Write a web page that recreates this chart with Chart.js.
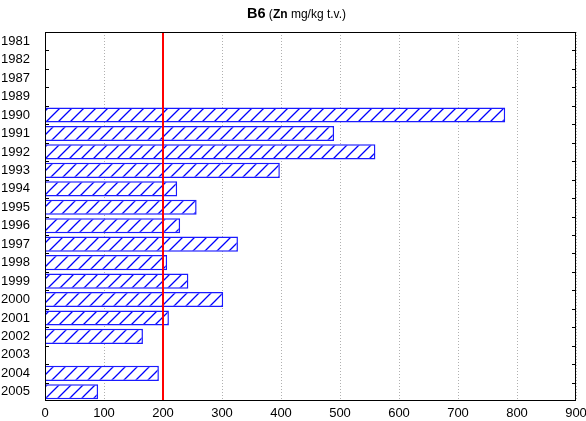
<!DOCTYPE html>
<html lang="en">
<head>
    <meta charset="UTF-8">
    <title>B6 Zn</title>
    <script src="https://cdn.jsdelivr.net/npm/chart.js"></script>
    <style>
        body {
            margin: 0;
            background: #fff;
            font-family: "Liberation Sans", Arial, sans-serif;
        }
        .wrap {
            position: relative;
            width: 586px;
            height: 421px;
        }
        .title {
            position: absolute;
            top: 5px;
            left: 0;
            width: 593px;
            text-align: center;
            font-size: 12px;
            color: #000;
        }
        .title b.big { font-size: 14.5px; }
    </style>
</head>
<body>
    <div class="wrap">
        <div class="title"><b class="big">B6</b> (<b>Zn</b> mg/kg t.v.)</div>
        <canvas id="chart" width="586" height="421"></canvas>
    </div>

    <script>
        // data
        const years = ['1981', '1982', '1987', '1989', '1990', '1991', '1992', '1993', '1994', '1995',
                       '1996', '1997', '1998', '1999', '2000', '2001', '2002', '2003', '2004', '2005'];
        const zinc = [null, null, null, null, 780, 490, 560, 398, 224, 257,
                      229, 327, 207, 243, 302, 210, 166, null, 193, 90];
        const limit = [200];
        const xTicks = [0, 100, 200, 300, 400, 500, 600, 700, 800, 900];

        // hatch fill
        function hatch() {
            const c = document.createElement('canvas');
            c.width = 12; c.height = 12;
            const g = c.getContext('2d');
            g.fillStyle = '#fff';
            g.fillRect(0, 0, 12, 12);
            g.strokeStyle = '#0000ff';
            g.lineWidth = 1.3;
            g.beginPath();
            g.moveTo(0, 12); g.lineTo(12, 0);
            g.moveTo(-6, 6); g.lineTo(6, -6);
            g.moveTo(6, 18); g.lineTo(18, 6);
            g.stroke();
            return g.createPattern(c, 'repeat');
        }

        const frame = {
            id: 'frame',
            afterDraw(chart) {
                const ctx = chart.ctx;
                const a = chart.chartArea;
                const x = chart.scales.x, y = chart.scales.y;
                ctx.save();
                // limit line
                limit.forEach(v => {
                    const px = x.getPixelForValue(v);
                    ctx.strokeStyle = '#ff0000';
                    ctx.lineWidth = 2;
                    ctx.beginPath();
                    ctx.moveTo(px, a.top);
                    ctx.lineTo(px, a.bottom);
                    ctx.stroke();
                });
                // box
                ctx.strokeStyle = '#000';
                ctx.lineWidth = 1;
                ctx.strokeRect(a.left + 0.5, a.top + 0.5, a.right - a.left - 1, a.bottom - a.top - 1);
                // inward ticks at category boundaries
                ctx.beginPath();
                for (let i = 1; i < years.length; i++) {
                    const py = Math.round((y.getPixelForValue(i - 1) + y.getPixelForValue(i)) / 2) + 0.5;
                    ctx.moveTo(a.left, py); ctx.lineTo(a.left + 4, py);
                    ctx.moveTo(a.right, py); ctx.lineTo(a.right - 4, py);
                }
                ctx.stroke();
                ctx.restore();
            }
        };

        new Chart(document.getElementById('chart'), {
            type: 'bar',
            data: {
                labels: years,
                datasets: [{
                    data: zinc,
                    backgroundColor: hatch(),
                    borderColor: '#1a1aff',
                    borderWidth: 1.5,
                    barPercentage: 0.82,
                    categoryPercentage: 1
                }]
            },
            options: {
                indexAxis: 'y',
                responsive: false,
                animation: false,
                layout: { padding: { top: 32, right: 0, left: 0, bottom: 0 } },
                plugins: {
                    legend: { display: false },
                    tooltip: { enabled: false }
                },
                scales: {
                    x: {
                        min: 0,
                        max: 900,
                        afterBuildTicks: s => { s.ticks = xTicks.map(v => ({ value: v })); },
                        afterFit: s => { s.height = 20; s.paddingRight = 10; s.paddingLeft = 0; },
                        grid: { color: '#b0b0b0', drawTicks: false, lineWidth: 1 },
                        border: { display: false, dash: [1, 2] },
                        ticks: { color: '#000', font: { family: 'Liberation Sans', size: 13 }, padding: 5, maxRotation: 0, autoSkip: false }
                    },
                    y: {
                        afterFit: s => { s.width = 45; s.paddingTop = 0; s.paddingBottom = 0; },
                        grid: { display: false },
                        border: { display: false },
                        ticks: { color: '#000', font: { family: 'Liberation Sans', size: 13 }, padding: 7, autoSkip: false }
                    }
                }
            },
            plugins: [frame]
        });
    </script>
</body>
</html>
